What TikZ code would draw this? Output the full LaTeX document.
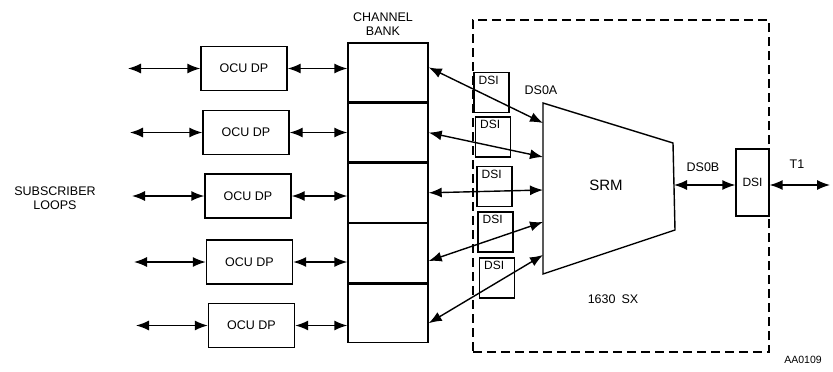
\documentclass[tikz,border=0pt]{standalone}
\usepackage{fontspec}
\setmainfont{Liberation Sans}
\usepackage{tikz}
\usetikzlibrary{arrows.meta, positioning, calc}

\begin{document}
\begin{tikzpicture}[
    x=1pt, y=-1pt,
    ocu/.style={rectangle, minimum width=86pt, minimum height=44pt, align=center, draw=black, line width=1.4pt, font=\fontsize{12.5}{14}\selectfont},
    bankrow/.style={rectangle, minimum width=80pt, minimum height=58.8pt, draw=black, line width=1.4pt},
    dsi/.style={rectangle, minimum width=35pt, minimum height=40pt, draw=black, line width=1.2pt,
        label={[anchor=north west, inner xsep=5pt, inner ysep=4pt, font=\fontsize{12}{14}\selectfont]north west:DSI}},
    lbl/.style={font=\fontsize{12.5}{14}\selectfont, align=center},
    line/.style={draw=black, line width=1.4pt, {Latex[length=13pt,width=10pt]}-{Latex[length=13pt,width=10pt]}}
]
    \useasboundingbox (0,0) rectangle (833,372);

    \node[lbl] (subs) at (55,198) {SUBSCRIBER\\LOOPS};

    \node[ocu] (ocu1) at (244,68.5) {OCU DP};
    \node[ocu] (ocu2) at (246,132.5) {OCU DP};
    \node[ocu] (ocu3) at (248,196) {OCU DP};
    \node[ocu] (ocu4) at (249.5,262) {OCU DP};
    \node[ocu] (ocu5) at (251.5,325.5) {OCU DP};

    \coordinate (loop1) at (128,68.5);
    \coordinate (loop2) at (130,132.5);
    \coordinate (loop3) at (132,196);
    \coordinate (loop4) at (134,262);
    \coordinate (loop5) at (136,325.5);

    \node[bankrow] (cb1) at (388,72.4) {};
    \node[bankrow, below=0pt of cb1] (cb2) {};
    \node[bankrow, below=0pt of cb2] (cb3) {};
    \node[bankrow, below=0pt of cb3] (cb4) {};
    \node[bankrow, below=0pt of cb4] (cb5) {};
    \node[lbl, above=3pt of cb1, xshift=-5pt] (bank) {CHANNEL\\BANK};

    % 1630 SX shelf
    \node[rectangle, draw=black, line width=1.2pt, dash pattern=on 9pt off 5pt, minimum width=296pt, minimum height=332pt] (sx) at (621,186) {};
    \node[lbl] (sxname) at (613,299) {1630\hspace{6pt}SX};

    \node[dsi] (dsi1) at (491.5,92.5) {};
    \node[dsi] (dsi2) at (493,137) {};
    \node[dsi] (dsi3) at (494.5,186.5) {};
    \node[dsi] (dsi4) at (495.5,232) {};
    \node[dsi] (dsi5) at (497,278) {};

    % SRM
    \coordinate (srmA) at (543,103);
    \coordinate (srmB) at (673,143);
    \coordinate (srmC) at (675,230);
    \coordinate (srmD) at (543,274);
    \draw[line width=1.4pt] (srmA) -- (srmB) -- (srmC) -- (srmD) -- cycle;
    \node[font=\fontsize{15}{17}\selectfont] (srm) at (606,185) {SRM};
    \coordinate (s1) at (543,123);
    \coordinate (s2) at (543,157);
    \coordinate (s3) at (543,190);
    \coordinate (s4) at (543,222);
    \coordinate (s5) at (543,255);
    \coordinate (sout) at (674,185);

    \node[rectangle, draw=black, line width=1.2pt, minimum width=33pt, minimum height=67pt, font=\fontsize{12}{14}\selectfont] (dsiR) at (752.5,182.5) {DSI};
    \coordinate (t1end) at (830,185);

    \node[lbl] (ds0a) at (541,90) {DS0A};
    \node[lbl] (ds0b) at (703,167) {DS0B};
    \node[lbl] (t1) at (797,164) {T1};
    \node[font=\fontsize{10.5}{12}\selectfont] (fig) at (803,360) {AA0109};

    % Connectors
    \draw[line] (loop1) -- (ocu1.west);
    \draw[line] (loop2) -- (ocu2.west);
    \draw[line] (loop3) -- (ocu3.west);
    \draw[line] (loop4) -- (ocu4.west);
    \draw[line] (loop5) -- (ocu5.west);
    \draw[line] (ocu1.east) -- (ocu1.east -| cb1.west);
    \draw[line] (ocu2.east) -- (ocu2.east -| cb2.west);
    \draw[line] (ocu3.east) -- (ocu3.east -| cb3.west);
    \draw[line] (ocu4.east) -- (ocu4.east -| cb4.west);
    \draw[line] (ocu5.east) -- (ocu5.east -| cb5.west);
    \draw[line] ([yshift=5pt]cb1.east) -- (s1);
    \draw[line] (cb2.east) -- (s2);
    \draw[line] (cb3.east) -- (s3);
    \draw[line] ([yshift=-8pt]cb4.east) -- (s4);
    \draw[line] ([yshift=-10pt]cb5.east) -- (s5);
    \draw[line] (sout) -- (dsiR.west |- sout);
    \draw[line] (dsiR.east |- t1end) -- (t1end);
\end{tikzpicture}
\end{document}
